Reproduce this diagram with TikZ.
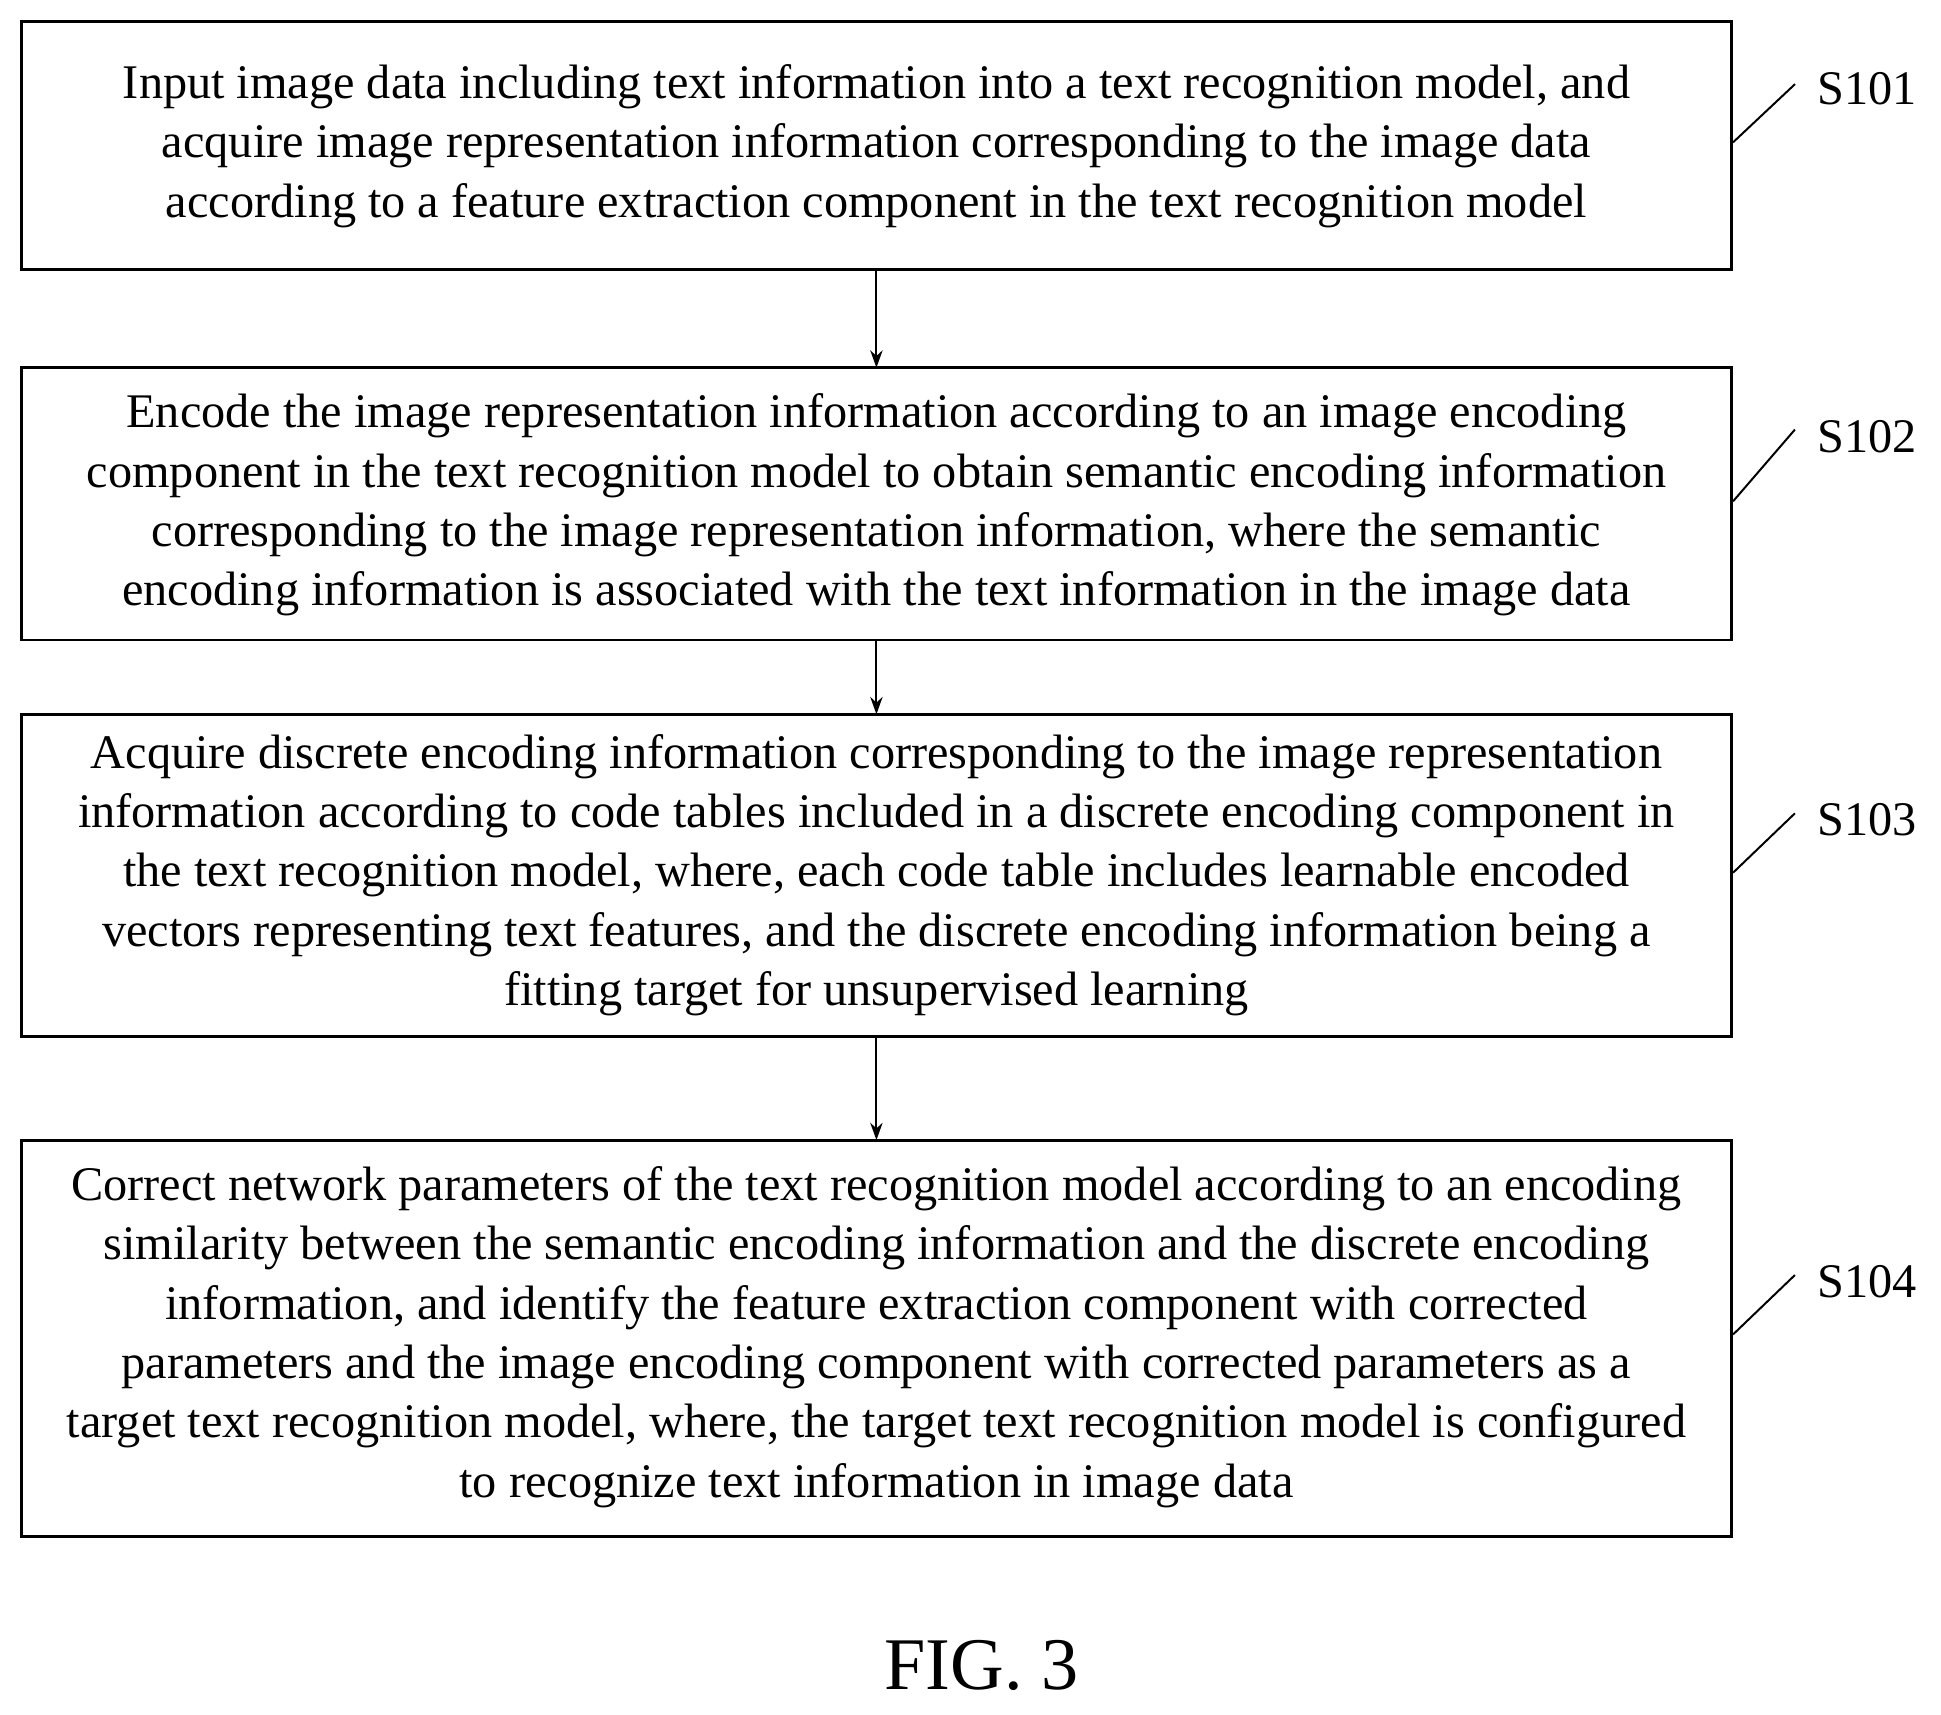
\documentclass[tikz,border=0pt]{standalone}
\usepackage{fontspec}
\usetikzlibrary{arrows.meta}
\setmainfont{Liberation Serif}
\begin{document}
\begin{tikzpicture}[x=0.5pt,y=-0.5pt,
  box/.style={draw,line width=1.2pt},
  txt/.style={align=center,font=\fontsize{19.5}{24}\selectfont,inner sep=0},
  lab/.style={font=\fontsize{19.5}{24}\selectfont,anchor=west,inner sep=0},
  arr/.style={-{Stealth[length=7pt,width=5pt]},line width=0.8pt},
  lead/.style={line width=0.8pt}]
\useasboundingbox (0,0) rectangle (1568,1385);
\draw[box] (17,17) rectangle (1399,218);
\draw[box] (17,297) rectangle (1399,517);
\draw[box] (17,577) rectangle (1399,837);
\draw[box] (17,921) rectangle (1399,1241);
\node[txt] (t1) at (708,118) {Input image data including text information into a text recognition model, and\\acquire image representation information corresponding to the image data\\according to a feature extraction component in the text recognition model};
\node[txt] (t2) at (708,408) {Encode the image representation information according to an image encoding\\component in the text recognition model to obtain semantic encoding information\\corresponding to the image representation information, where the semantic\\encoding information is associated with the text information in the image data};
\node[txt] (t3) at (708,707) {Acquire discrete encoding information corresponding to the image representation\\information according to code tables included in a discrete encoding component in\\the text recognition model, where, each code table includes learnable encoded\\vectors representing text features, and the discrete encoding information being a\\fitting target for unsupervised learning};
\node[txt] (t4) at (708,1080) {Correct network parameters of the text recognition model according to an encoding\\similarity between the semantic encoding information and the discrete encoding\\information, and identify the feature extraction component with corrected\\parameters and the image encoding component with corrected parameters as a\\target text recognition model, where, the target text recognition model is configured\\to recognize text information in image data};
\coordinate (b1) at (708,218); \coordinate (a2) at (708,297);
\coordinate (b2) at (708,517); \coordinate (a3) at (708,577);
\coordinate (b3) at (708,837); \coordinate (a4) at (708,921);
\draw[arr] (b1) -- (a2);
\draw[arr] (b2) -- (a3);
\draw[arr] (b3) -- (a4);
\coordinate (l1) at (1400,115); \coordinate (m1) at (1450,68);
\coordinate (l2) at (1400,405); \coordinate (m2) at (1450,347);
\coordinate (l3) at (1400,705); \coordinate (m3) at (1450,657);
\coordinate (l4) at (1400,1078); \coordinate (m4) at (1450,1030);
\draw[lead] (l1) -- (m1); \draw[lead] (l2) -- (m2);
\draw[lead] (l3) -- (m3); \draw[lead] (l4) -- (m4);
\node[lab] (s1) at (1468,72) {S101};
\node[lab] (s2) at (1468,353) {S102};
\node[lab] (s3) at (1468,662) {S103};
\node[lab] (s4) at (1468,1035) {S104};
\node[font=\fontsize{30}{36}\selectfont,inner sep=0] (fig) at (793,1345) {FIG. 3};
\end{tikzpicture}
\end{document}
